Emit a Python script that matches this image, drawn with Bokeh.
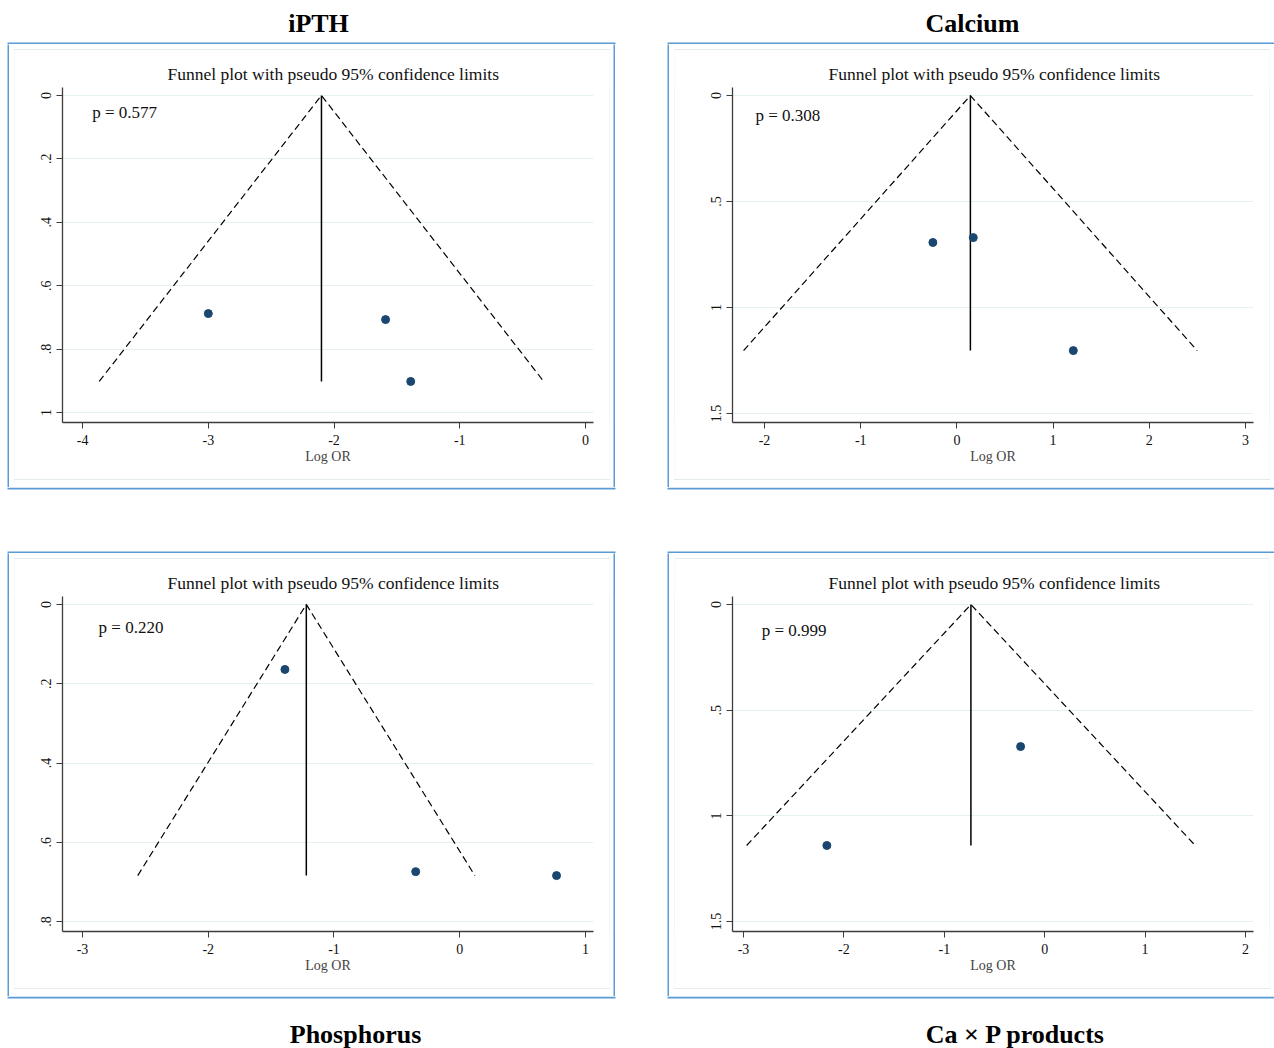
from bokeh.plotting import figure
from bokeh.models import Range1d, FixedTicker, Spacer
from bokeh.layouts import row, column
from bokeh.embed import file_html
from bokeh.resources import INLINE
from bokeh.core.properties import value

# ---------------- data ----------------
panel_titles = ["iPTH", "Calcium", "Phosphorus", "Ca × P products"]
subtitle = "Funnel plot with pseudo 95% confidence limits"
p_values = ["p = 0.577", "p = 0.308", "p = 0.220", "p = 0.999"]

ipth_logor = [-3.00, -1.59, -1.39]
ipth_se = [0.688, 0.707, 0.902]
ipth_pooled = -2.10

calcium_logor = [-0.25, 0.17, 1.21]
calcium_se = [0.693, 0.670, 1.203]
calcium_pooled = 0.14

phos_logor = [-1.39, -0.35, 0.77]
phos_se = [0.164, 0.674, 0.684]
phos_pooled = -1.22

capp_logor = [-0.24, -2.17]
capp_se = [0.672, 1.140]
capp_pooled = -0.735

ipth_xticks = [-4, -3, -2, -1, 0]
ipth_yticks = [0, 0.2, 0.4, 0.6, 0.8, 1]
ipth_ylabels = ["0", ".2", ".4", ".6", ".8", "1"]

calcium_xticks = [-2, -1, 0, 1, 2, 3]
calcium_yticks = [0, 0.5, 1, 1.5]
calcium_ylabels = ["0", ".5", "1", "1.5"]

phos_xticks = [-3, -2, -1, 0, 1]
phos_yticks = [0, 0.2, 0.4, 0.6, 0.8]
phos_ylabels = ["0", ".2", ".4", ".6", ".8"]

capp_xticks = [-3, -2, -1, 0, 1, 2]
capp_yticks = [0, 0.5, 1, 1.5]
capp_ylabels = ["0", ".5", "1", "1.5"]

# axis extents (data units)
ipth_xr = (-4.16, 0.064)
ipth_yr = (1.0315, -0.025)
calcium_xr = (-2.333, 3.083)
calcium_yr = (1.542, -0.038)
phos_xr = (-3.159, 1.064)
phos_yr = (0.825, -0.020)
capp_xr = (-3.110, 2.080)
capp_yr = (1.547, -0.038)

FONT = "Liberation Serif"
BOX = "#5B9BD5"
FAINT = "#e4ebee"
DOT = "#1a476f"
AXC = "#3c3c3c"

PAGE_W = 1274
FIG_W, FIG_H = 594, 429
ROW_H = 443            # 5 gap + 1 faint + 429 figure + 1 faint + 7 gap
LEFT_BOX = (7, 615)    # horizontal extent of the left boxes (page px)
RIGHT_BOX = (667, PAGE_W + 10)


def bar(w, h, color):
    b = figure(width=w, height=h, min_border=0, toolbar_location=None,
               output_backend="svg", x_axis_location=None,
               y_axis_location=None, title_location=None,
               x_range=Range1d(0, 1), y_range=Range1d(0, 1))
    b.background_fill_color = color
    b.border_fill_color = color
    b.outline_line_color = None
    b.grid.visible = False
    return b


def hline(w, color):
    return Spacer(width=w, height=1, styles={"background-color": color})


def make_panel(logor, se, pooled, ptxt, xr, yr, xticks, yticks, ylabels,
               mb_left, ptxt_pos, sub_offset):
    p = figure(width=FIG_W, height=FIG_H, x_range=Range1d(*xr),
               y_range=Range1d(yr[0], yr[1]), output_backend="svg",
               toolbar_location=None, min_border_left=mb_left,
               min_border_right=16, min_border_top=37,
               min_border_bottom=57, title=subtitle)
    p.outline_line_color = None
    p.title.align = "left"
    p.title.offset = sub_offset
    p.title.text_font = FONT
    p.title.text_font_style = "normal"
    p.title.text_font_size = "17.5px"
    p.title.text_color = "#111111"
    p.title.standoff = 8

    p.xgrid.visible = False
    p.ygrid.grid_line_color = "#e6eff2"
    p.ygrid.grid_line_width = 1

    p.xaxis.ticker = FixedTicker(ticks=xticks)
    p.xaxis.major_label_overrides = {t: str(t) for t in xticks}
    p.yaxis.ticker = FixedTicker(ticks=yticks)
    p.yaxis.major_label_overrides = {t: l for t, l in zip(yticks, ylabels)}
    p.yaxis.major_label_orientation = "vertical"
    for ax in (p.xaxis[0], p.yaxis[0]):
        ax.axis_line_color = AXC
        ax.axis_line_width = 1.3
        ax.major_tick_line_color = AXC
        ax.major_tick_out = 6
        ax.major_tick_in = 0
        ax.minor_tick_line_color = None
        ax.major_label_text_font = FONT
        ax.major_label_text_font_size = "14px"
        ax.major_label_text_color = "#111111"
    p.xaxis.major_label_standoff = 6
    p.yaxis.major_label_standoff = 5
    p.xaxis.axis_label = "Log OR"
    p.xaxis.axis_label_text_font = FONT
    p.xaxis.axis_label_text_font_style = "normal"
    p.xaxis.axis_label_text_font_size = "14px"
    p.xaxis.axis_label_standoff = 1

    smax = max(se)
    half = 1.96 * smax
    p.line([pooled - half, pooled, pooled + half], [smax, 0, smax],
           line_color="black", line_width=1.2, line_dash="7 4")
    p.line([pooled, pooled], [0, smax], line_color="black", line_width=1.5)
    p.scatter(logor, se, size=8, fill_color=DOT, line_color=DOT)

    x0, x1 = xr
    ybot, ytop = yr
    tx = x0 + ptxt_pos[0] * (x1 - x0)
    ty = ytop + ptxt_pos[1] * (ybot - ytop)
    p.text(x=[tx], y=[ty], text=[ptxt], text_font=value(FONT),
           text_font_size="17px", text_baseline="middle", text_align="left",
           text_color="#111111")
    return p


def boxed(fig, right_blue):
    # faint inner frame (Stata plot region) + white gaps + blue side edges
    inner = column(hline(FIG_W + 2, FAINT),
                   row(bar(1, FIG_H, FAINT), fig, bar(1, FIG_H, FAINT)),
                   hline(FIG_W + 2, FAINT))
    right_gap = 3 if right_blue else 4
    mid = row(Spacer(width=5, height=ROW_H),
              column(Spacer(width=FIG_W + 2, height=5), inner,
                     Spacer(width=FIG_W + 2, height=7)),
              Spacer(width=right_gap, height=ROW_H))
    if right_blue:
        return row(bar(2, ROW_H, BOX), mid, bar(2, ROW_H, BOX))
    return row(bar(2, ROW_H, BOX), mid)


def strip(height, edges, names=None, xs=None, mid_y=None):
    """Full-width strip: panel titles and the horizontal blue box edges."""
    t = figure(width=PAGE_W, height=height, x_range=Range1d(0, PAGE_W),
               y_range=Range1d(0, height), output_backend="svg",
               toolbar_location=None, min_border=0, title_location=None,
               x_axis_location=None, y_axis_location=None)
    t.grid.visible = False
    t.outline_line_color = None
    for (b0, b1) in edges:
        t.quad(left=[LEFT_BOX[0], RIGHT_BOX[0]],
               right=[LEFT_BOX[1], RIGHT_BOX[1]],
               bottom=[b0, b0], top=[b1, b1],
               fill_color=BOX, line_color=None)
    if names:
        t.text(x=xs, y=[mid_y] * len(xs), text=names, text_font=value(FONT),
               text_font_style="bold", text_font_size="26px",
               text_align="center", text_baseline="middle",
               text_color="black")
    return t


p_ipth = make_panel(ipth_logor, ipth_se, ipth_pooled, p_values[0], ipth_xr,
                    ipth_yr, ipth_xticks, ipth_yticks, ipth_ylabels,
                    47, (0.056, 0.075), 105)
p_cal = make_panel(calcium_logor, calcium_se, calcium_pooled, p_values[1],
                   calcium_xr, calcium_yr, calcium_xticks, calcium_yticks,
                   calcium_ylabels, 57, (0.044, 0.084), 96)
p_phos = make_panel(phos_logor, phos_se, phos_pooled, p_values[2], phos_xr,
                    phos_yr, phos_xticks, phos_yticks, phos_ylabels,
                    47, (0.068, 0.093), 105)
p_capp = make_panel(capp_logor, capp_se, capp_pooled, p_values[3], capp_xr,
                    capp_yr, capp_xticks, capp_yticks, capp_ylabels,
                    57, (0.056, 0.10), 96)

top_strip = strip(44, [(0, 2)], panel_titles[:2], [318, 972], 21)
mid_strip = strip(66, [(64, 66), (0, 2)])
bottom_strip = strip(52, [(50, 52)], panel_titles[2:], [355, 1015], 14)

layout = column(
    top_strip,
    row(Spacer(width=7, height=ROW_H), boxed(p_ipth, True),
        Spacer(width=52, height=ROW_H), boxed(p_cal, False)),
    mid_strip,
    row(Spacer(width=7, height=ROW_H), boxed(p_phos, True),
        Spacer(width=52, height=ROW_H), boxed(p_capp, False)),
    bottom_strip,
)

open("out.html", "w").write(file_html(layout, INLINE))
